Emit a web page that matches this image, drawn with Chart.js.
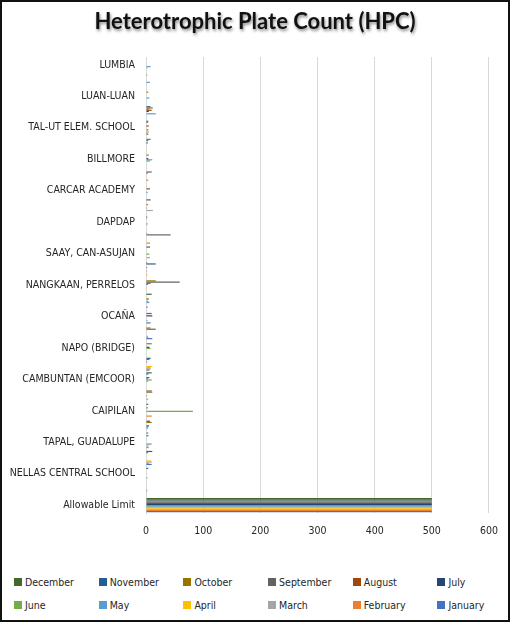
<!DOCTYPE html>
<html>
<head>
<meta charset="utf-8">
<script src="https://cdn.jsdelivr.net/npm/chart.js@4.4.1/dist/chart.umd.min.js"></script>
<style>
  body { margin: 0; background: #fff; }
  #wrap { position: relative; width: 510px; height: 622px; overflow: hidden; font-family: Lato, sans-serif; }
  #frame { position: absolute; left: 0; top: 0; width: 510px; height: 622px; box-sizing: border-box; border: 2px solid #111; pointer-events: none; }
  #title { position: absolute; left: 0; top: 7px; width: 510px; text-align: center; font-weight: bold; font-size: 22px; color: #111; text-shadow: 1px 2px 3px rgba(0,0,0,0.45); }
  #chart { position: absolute; left: 0; top: 0; }
  #legend { position: absolute; left: 14px; top: 576px; display: grid; grid-template-columns: repeat(6, 84.7px); grid-auto-rows: 23px; font-size: 12px; color: #262626; }
  #legend span.box { display: inline-block; width: 8px; height: 8px; margin-right: 3px; vertical-align: 0px; }
</style>
</head>
<body>
<div id="wrap">
  <canvas id="chart" width="510" height="548"></canvas>
  <div id="title">Heterotrophic Plate Count (HPC)</div>
  <div id="legend"></div>
  <div id="frame"></div>
</div>
<script>
// stations, top to bottom (unlabelled rows in the picture are left blank)
const stations = [
  'LUMBIA', '', 'LUAN-LUAN', '', 'TAL-UT ELEM. SCHOOL', '', 'BILLMORE', '',
  'CARCAR ACADEMY', '', 'DAPDAP', '', 'SAAY, CAN-ASUJAN', '', 'NANGKAAN, PERRELOS', '',
  'OCAÑA', '', 'NAPO (BRIDGE)', '', 'CAMBUNTAN (EMCOOR)', '', 'CAIPILAN', '',
  'TAPAL, GUADALUPE', '', 'NELLAS CENTRAL SCHOOL', '', 'Allowable Limit'
];

const december  = [0,0,0,0,4,0,0,0,0,8,0,0,7,2,0,10,0,0,0,0,10,0,4,0,4,11,0,0,500];
const november  = [0,2,0,8,3,0,0,0,0,0,2,0,0,17,0,0,0,0,0,8,4,0,0,7,0,3,4,0,500];
const october   = [0,0,4,12,0,8,5,0,0,0,2,2,0,0,17,0,0,8,10,6,0,10,0,10,0,0,0,0,500];
const september = [0,0,0,6,0,4,0,10,0,0,0,43,0,0,59,0,10,17,0,0,0,11,3,0,0,0,0,0,500];
const august    = [0,0,0,10,5,0,0,3,7,3,0,0,0,2,8,5,0,0,0,2,6,0,0,0,0,0,0,0,500];
const july      = [0,0,0,5,0,3,4,0,0,0,0,0,0,0,3,0,11,0,6,0,3,0,0,5,0,0,0,0,500];
const june      = [0,0,0,0,0,0,11,0,0,0,0,0,6,0,0,4,0,0,8,0,10,2,82,4,0,0,0,2,500];
const may       = [8,7,6,17,4,0,7,0,3,2,3,0,0,2,0,6,0,0,0,0,4,0,0,3,10,0,0,2,500];
const april     = [3,0,0,0,4,0,0,0,0,0,2,0,0,0,2,0,0,0,0,11,0,0,0,0,6,9,0,1,500];
const march     = [0,0,0,0,5,0,0,0,0,12,0,0,7,0,0,0,3,3,0,8,0,4,0,0,3,10,3,0,500];
const february  = [0,0,0,0,3,0,0,4,0,0,0,7,0,2,0,0,0,4,0,8,0,0,10,0,5,5,0,1,500];
const january   = [0,0,0,0,4,0,0,0,0,0,0,0,0,0,0,3,8,11,0,6,0,0,0,4,0,10,0,0,500];

const xTicks = [0, 100, 200, 300, 400, 500, 600];

const series = [
  ['December', december, '#43682B'],
  ['November', november, '#255E91'],
  ['October', october, '#997300'],
  ['September', september, '#636363'],
  ['August', august, '#9E480E'],
  ['July', july, '#264478'],
  ['June', june, '#70AD47'],
  ['May', may, '#5B9BD5'],
  ['April', april, '#FFC000'],
  ['March', march, '#A5A5A5'],
  ['February', february, '#ED7D31'],
  ['January', january, '#4472C4'],
];

const textColor = '#262626';

// the original uses a narrow face (Calibri); take a condensed one if it is installed
const probe = document.createElement('canvas').getContext('2d');
const measure = (font, txt) => { probe.font = font; return probe.measureText(txt).width; };
const installed = (name) => measure(`40px "${name}", monospace`, 'abcdefgHIJKL') !==
  measure('40px monospace', 'abcdefgHIJKL');
const narrowFace = ['Liberation Sans Narrow', 'DejaVu Sans Condensed', 'Roboto Condensed', 'Open Sans Condensed']
  .find(installed);
const fontFamily = narrowFace ? `"${narrowFace}", sans-serif` : 'Lato, sans-serif';
// size the labels so the longest label fits the width it has in the picture
const labelSize = Math.floor(24 * Math.min(
  121 / measure('12px ' + fontFamily, 'CAMBUNTAN (EMCOOR)'),
  126 / measure('12px ' + fontFamily, 'NELLAS CENTRAL SCHOOL'))) / 2;
const legendSize = Math.round(24 * 49 / measure('12px ' + fontFamily, 'December')) / 2;
document.getElementById('legend').style.fontFamily = fontFamily;
document.getElementById('legend').style.fontSize = legendSize + 'px';

const chart = new Chart(document.getElementById('chart'), {
  type: 'bar',
  data: {
    labels: stations,
    datasets: series.map(s => ({
      label: s[0],
      data: s[1],
      backgroundColor: s[2],
      borderWidth: 0,
      categoryPercentage: 0.9,
      barPercentage: 1.0,
    })),
  },
  options: {
    indexAxis: 'y',
    responsive: false,
    animation: false,
    layout: { padding: { top: 57, right: 20, left: 0, bottom: 0 } },
    plugins: {
      legend: { display: false },
      title: { display: false },
    },
    scales: {
      x: {
        min: 0,
        max: 600,
        afterBuildTicks: (scale) => { scale.ticks = xTicks.map(v => ({ value: v })); },
        afterFit: (scale) => { scale.height = 35; },
        grid: { color: '#d9d9d9', drawTicks: false },
        border: { display: false },
        ticks: { color: textColor, font: { family: fontFamily, size: labelSize }, padding: 12 },
      },
      y: {
        afterFit: (scale) => { scale.width = 146; },
        grid: { display: false, drawTicks: false },
        border: { color: '#d9d9d9' },
        ticks: { autoSkip: false, color: textColor, font: { family: fontFamily, size: labelSize }, padding: 11 },
      },
    },
  },
});

// legend, six columns like the original
const legendBox = document.getElementById('legend');
series.forEach(s => {
  const item = document.createElement('div');
  item.innerHTML = `<span class="box" style="background:${s[2]}"></span>${s[0]}`;
  legendBox.appendChild(item);
});
</script>
</body>
</html>
